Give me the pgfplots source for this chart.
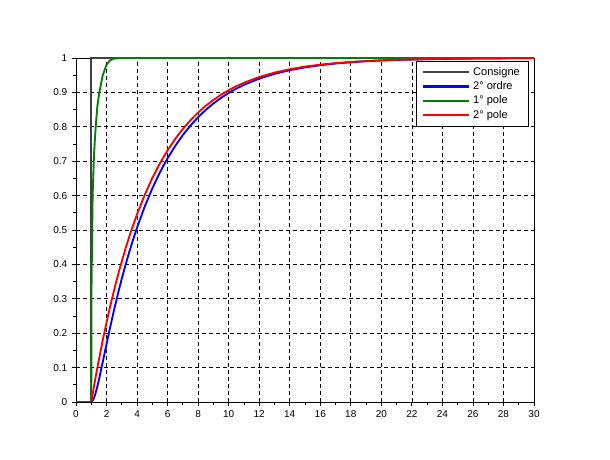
\documentclass[border=0pt]{standalone}
\usepackage{pgfplots}
\pgfplotsset{compat=1.18}
\usepackage{fontspec}
\setmainfont{Liberation Sans}
\definecolor{gr}{RGB}{0,128,0}
\begin{document}
\begin{tikzpicture}[x=1pt,y=1pt]
\begin{axis}[
  at={(0,0)}, anchor=origin,
  scale only axis, width=343.5pt, height=258pt,
  xmin=0, xmax=30, ymin=0, ymax=1,
  xtick={0,2,...,30}, ytick={0,0.1,...,1},
  minor x tick num=1, minor y tick num=1,
  yticklabel style={/pgf/number format/.cd,fixed,precision=1},
  /pgf/number format/assume math mode=true,
  tick label style={font=\fontsize{7.5}{8}\selectfont},
  tick align=outside, tick pos=left,
  major tick length=3pt, minor tick length=2pt,
  tick style={black, line width=0.6pt},
  axis line style={line width=0.6pt},
  grid=major,
  major grid style={black, dashed, line width=0.5pt, dash pattern=on 3pt off 2.25pt},
  legend style={at={(0.989,0.992)}, anchor=north east, draw=black, line width=0.6pt,
    font=\fontsize{8.3}{9}\selectfont, row sep=-0.8pt, inner xsep=4.5pt, inner ysep=2.5pt},
  legend cell align=left,
  legend image code/.code={\draw[#1, line width=1.8pt] (0pt,0pt) -- (34.5pt,0pt);},
]
\addplot[color=black!75, line width=1.5pt] coordinates {(0,0) (1,0) (1,1) (30,1)};
\addlegendentry{Consigne}
\addplot[color=blue, line width=1.4pt] coordinates {
(0,0) (1,0) (1.125,0.0060) (1.25,0.0207) (1.375,0.0409) (1.5,0.0643) (1.75,0.1158) (2,0.1686) (2.25,0.2199) (2.5,0.2689) (2.75,0.3152) (3,0.3587) (3.25,0.3994) (3.5,0.4377) (3.75,0.4734) (4,0.5070)
(4.5,0.5678) (5,0.6211) (5.5,0.6678) (6,0.7087) (6.5,0.7446) (7,0.7761) (7.5,0.8037) (8,0.8279) (8.5,0.8491) (9,0.8678) (9.5,0.8840) (10,0.8984) (10.5,0.9109) (11,0.9218) (12,0.9400) (13,0.9539) (14,0.9645) (15,0.9727)
(16,0.9790) (17,0.9839) (18,0.9876) (19,0.9905) (20,0.9927) (21,0.9944) (24,0.9974) (27,0.9988) (30,0.9995)};
\addlegendentry{2° ordre}
\addplot[color=gr, line width=1.4pt] coordinates {
(0,0) (1,0) (1.02,0.35) (1.09,0.6) (1.18,0.72) (1.29,0.8) (1.4,0.86) (1.53,0.9) (1.75,0.95) (2.0,0.98) (2.2,0.992) (2.45,0.998) (3,1) (30,1)};
\addlegendentry{1° pole}
\addplot[color=red, line width=1.4pt] coordinates {
(0,0) (1,0) (1.125,0.0324) (1.25,0.0637) (1.375,0.0940) (1.5,0.1233) (1.75,0.1791) (2,0.2314) (2.25,0.2803) (2.5,0.3261) (2.75,0.3690) (3,0.4092) (3.25,0.4468) (3.5,0.4821) (3.75,0.5150) (4,0.5459)
(4.5,0.6019) (5,0.6510) (5.5,0.6940) (6,0.7317) (6.5,0.7648) (7,0.7938) (7.5,0.8192) (8,0.8415) (8.5,0.8610) (9,0.8782) (9.5,0.8932) (10,0.9064) (10.5,0.9179) (11,0.9280) (12,0.9447) (13,0.9575) (14,0.9673) (15,0.9749)
(16,0.9807) (17,0.9852) (18,0.9886) (19,0.9912) (20,0.9933) (21,0.9948) (24,0.9977) (27,0.9989) (30,0.9995)};
\addlegendentry{2° pole}
\end{axis}
\path[use as bounding box] (-57pt,-43.5pt) rectangle (400.5pt,301.5pt);
\end{tikzpicture}
\end{document}
